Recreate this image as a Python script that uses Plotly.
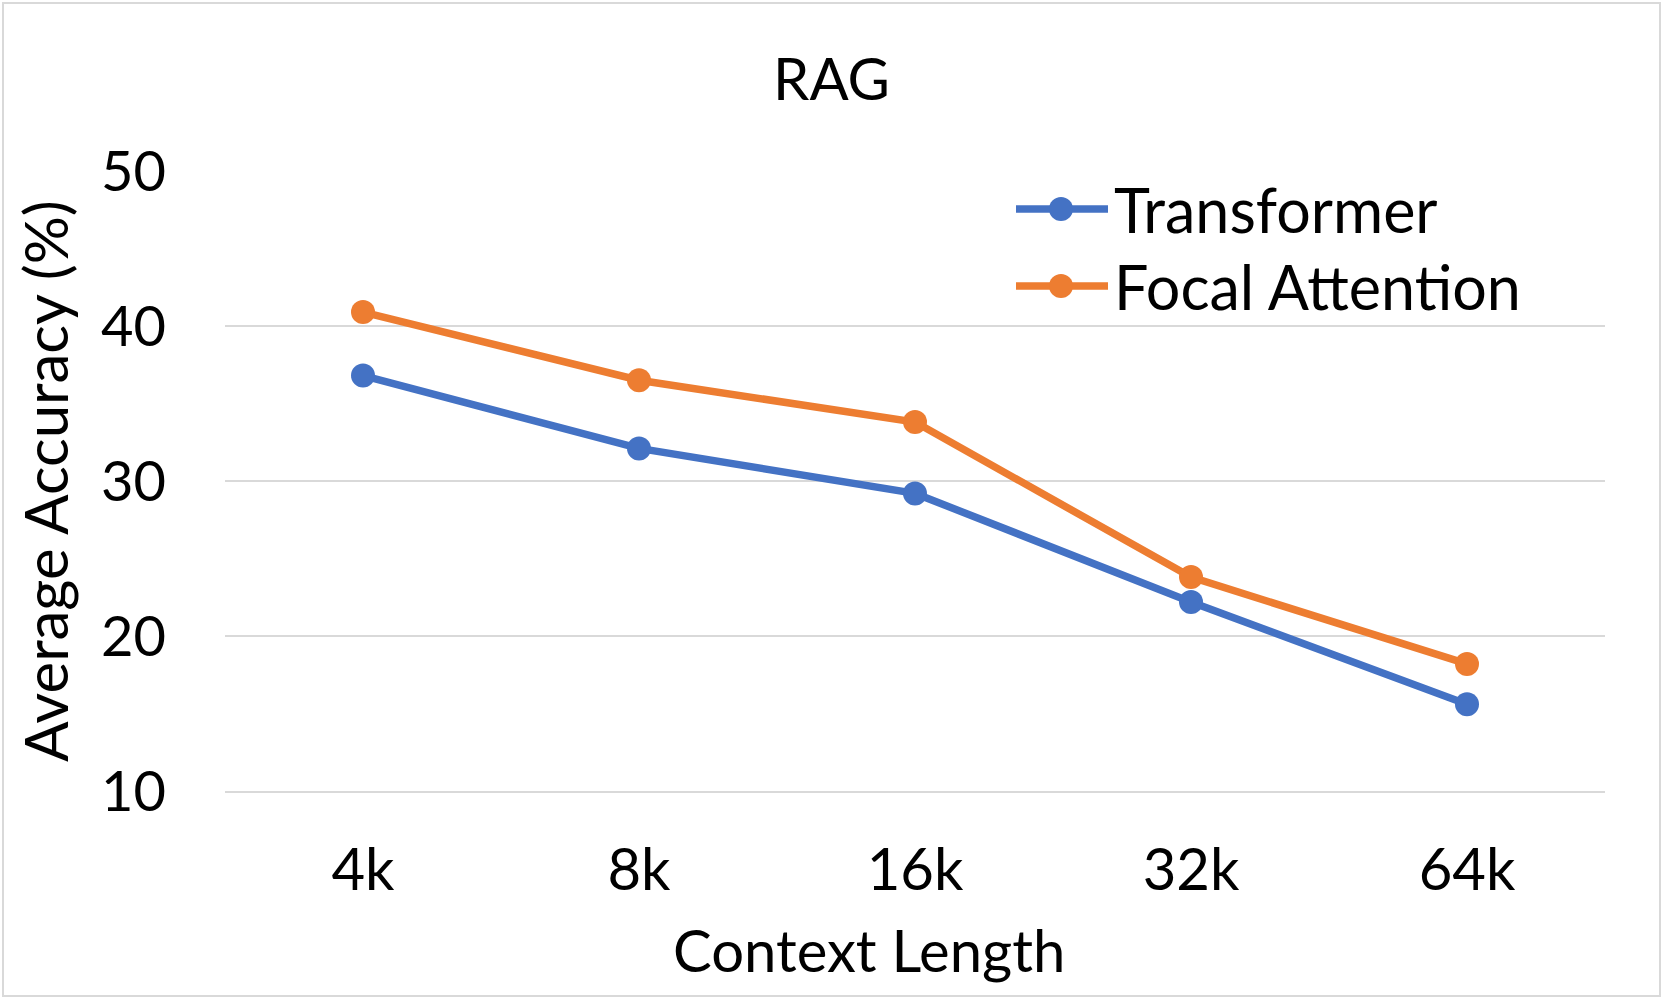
import plotly.graph_objects as go

categories = ["4k", "8k", "16k", "32k", "64k"]
transformer = [36.8, 32.1, 29.2, 22.2, 15.6]
focal = [40.9, 36.5, 33.8, 23.8, 18.2]
y_ticks = [10, 20, 30, 40, 50]
series_names = ["Transformer", "Focal Attention"]

W, H = 1663, 999
ML, MR, MT, MB = 225, 58, 171, 208
FONT = "Lato"
BLUE = "#4472C4"
ORANGE = "#ED7D31"
GRID = "#D9D9D9"
colors = [BLUE, ORANGE]

pw = W - ML - MR
ph = H - MT - MB


def px_x(px):
    return (px - ML) / pw


def px_y(py):
    return 1 - (py - MT) / ph


fig = go.Figure()
for name, vals, col in zip(series_names, [transformer, focal], colors):
    fig.add_trace(go.Scatter(x=categories, y=vals, name=name,
                             mode="lines+markers", showlegend=False,
                             line=dict(color=col, width=7.5),
                             marker=dict(color=col, size=24)))

shapes = [dict(type="rect", xref="paper", yref="paper",
               x0=px_x(3), x1=px_x(W - 3), y0=px_y(H - 3), y1=px_y(3),
               line=dict(color=GRID, width=2), fillcolor="rgba(0,0,0,0)", layer="below")]
annotations = [dict(text="Context Length", xref="paper", yref="paper",
                    x=px_x(869), y=px_y(950), xanchor="center", yanchor="middle",
                    showarrow=False, font=dict(size=58, color="black", family=FONT))]

legend_rows = [209, 286]
for name, col, ry in zip(series_names, colors, legend_rows):
    shapes.append(dict(type="line", xref="paper", yref="paper",
                       x0=px_x(1016), x1=px_x(1108), y0=px_y(ry), y1=px_y(ry),
                       line=dict(color=col, width=7.5)))
    r = 12
    shapes.append(dict(type="circle", xref="paper", yref="paper",
                       x0=px_x(1061 - r), x1=px_x(1061 + r),
                       y0=px_y(ry + r), y1=px_y(ry - r),
                       line=dict(color=col, width=0), fillcolor=col))
    annotations.append(dict(text=name, xref="paper", yref="paper",
                            x=px_x(1112), y=px_y(ry), xanchor="left", yanchor="middle",
                            showarrow=False,
                            font=dict(size=61, color="black", family=FONT)))

fig.update_layout(
    width=W, height=H,
    margin=dict(l=ML, r=MR, t=MT, b=MB, autoexpand=False),
    paper_bgcolor="white", plot_bgcolor="white",
    font=dict(family=FONT, color="black"),
    showlegend=False,
    title=dict(text="RAG", x=0.5, xref="container", xanchor="center",
               y=1 - 80 / H, yref="container", yanchor="middle",
               font=dict(size=58, color="black", family=FONT)),
    xaxis=dict(type="category", range=[-0.5, 4.5], showgrid=False,
               showline=True, linecolor=GRID, linewidth=2,
               ticks="", tickfont=dict(size=58), ticklabelstandoff=27),
    yaxis=dict(range=[10, 50], tickvals=y_ticks, showgrid=True, gridcolor=GRID,
               gridwidth=2, zeroline=False, showline=False, ticks="",
               tickfont=dict(size=56), ticklabelstandoff=58,
               title=dict(text="Average Accuracy (%)", font=dict(size=60), standoff=13)),
    shapes=shapes,
    annotations=annotations,
)

fig.write_html("out.html", config={"displayModeBar": False},
               post_script="document.body.style.margin='0';document.body.style.overflow='hidden';")
